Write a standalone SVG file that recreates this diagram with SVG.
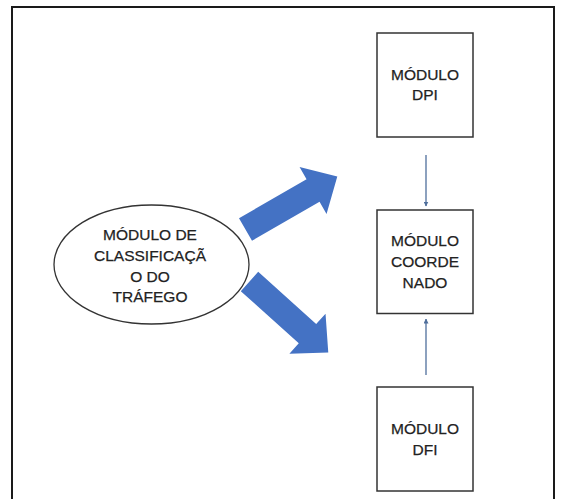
<svg xmlns="http://www.w3.org/2000/svg" width="565" height="499" viewBox="0 0 565 499">
  <defs>
    <style>
      .frame { fill: none; stroke: #1a1a1a; stroke-width: 2; }
      .box { fill: #ffffff; stroke: #333333; stroke-width: 1.5; }
      .oval { fill: #ffffff; stroke: #333333; stroke-width: 1.3; }
      .label { font-family: "Liberation Sans", Arial, sans-serif; font-size: 15.5px; fill: #222222; stroke: #222222; stroke-width: 0.25; text-anchor: middle; }
      .thin { stroke: #4f6f9c; stroke-width: 1.3; fill: none; marker-end: url(#tip); }
      .block { fill: #4472c4; }
    </style>
    <marker id="tip" viewBox="0 0 10 10" refX="9" refY="5" markerWidth="5" markerHeight="5" orient="auto" markerUnits="userSpaceOnUse">
      <path d="M0,0 L10,5 L0,10 z" fill="#4f6f9c"/>
    </marker>
    <!-- block arrow pointing along +x, tail centred on the origin -->
    <polygon id="blockArrow" points="0,-13 78,-13 78,-27 106,0 78,27 78,13 0,13"/>
  </defs>

  <rect x="0" y="0" width="565" height="499" fill="#ffffff"/>

  <!-- outer frame -->
  <rect class="frame" x="12" y="7" width="542" height="500"/>

  <!-- connectors -->
  <g id="connectors">
    <use href="#blockArrow" class="block" transform="translate(245.5,229.5) rotate(-30)"/>
    <use href="#blockArrow" class="block" transform="translate(249.5,281.5) rotate(42)"/>
    <line class="thin" x1="426" y1="155" x2="426" y2="206"/>
    <line class="thin" x1="426" y1="375" x2="426" y2="319"/>
  </g>

  <!-- traffic classification module -->
  <g id="classificacao">
    <ellipse class="oval" cx="151.5" cy="264.5" rx="97.5" ry="59.5"/>
    <text class="label" x="150" y="240">MÓDULO DE</text>
    <text class="label" x="150" y="260.8">CLASSIFICAÇÃ</text>
    <text class="label" x="150" y="281.6">O DO</text>
    <text class="label" x="150" y="302.4">TRÁFEGO</text>
  </g>

  <!-- DPI module -->
  <g id="dpi">
    <rect class="box" x="377" y="33" width="96" height="104"/>
    <text class="label" x="425" y="79.5">MÓDULO</text>
    <text class="label" x="425" y="100.2">DPI</text>
  </g>

  <!-- coordinator module -->
  <g id="coordenado">
    <rect class="box" x="377" y="210" width="96" height="103.5"/>
    <text class="label" x="425" y="246.3">MÓDULO</text>
    <text class="label" x="425" y="267.3">COORDE</text>
    <text class="label" x="425" y="288.3">NADO</text>
  </g>

  <!-- DFI module -->
  <g id="dfi">
    <rect class="box" x="377" y="387" width="96" height="104"/>
    <text class="label" x="425" y="434.3">MÓDULO</text>
    <text class="label" x="425" y="455.2">DFI</text>
  </g>
</svg>
